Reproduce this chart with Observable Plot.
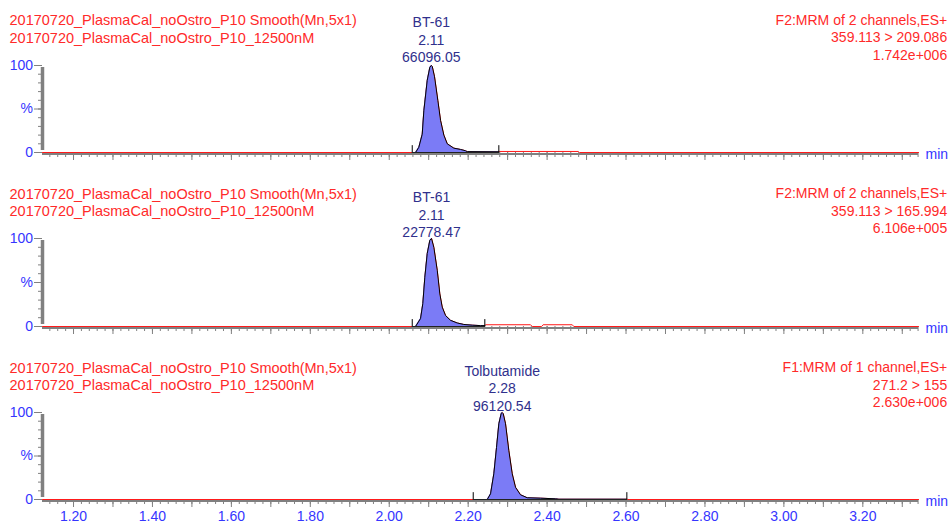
<!DOCTYPE html>
<html>
<head>
<meta charset="utf-8">
<script src="https://cdn.jsdelivr.net/npm/d3@7"></script>
<script src="https://cdn.jsdelivr.net/npm/@observablehq/plot@0.6"></script>
<style>
  html, body { margin: 0; padding: 0; background: #fff; }
  #chart svg { display: block; }
</style>
</head>
<body>
<div id="chart"></div>
<script>
// ---------- data ----------
const xDomain = [1.1214, 3.3411];
const xLabelTicks = [1.2, 1.4, 1.6, 1.8, 2.0, 2.2, 2.4, 2.6, 2.8, 3.0, 3.2];
const xLabelTexts = ["1.20", "1.40", "1.60", "1.80", "2.00", "2.20", "2.40", "2.60", "2.80", "3.00", "3.20"];
const yMajorTicks = [0, 50, 100];
const yTickLabels = ["0", "%", "100"];

const leftTitles = [
  ["20170720_PlasmaCal_noOstro_P10 Smooth(Mn,5x1)", "20170720_PlasmaCal_noOstro_P10_12500nM"],
  ["20170720_PlasmaCal_noOstro_P10 Smooth(Mn,5x1)", "20170720_PlasmaCal_noOstro_P10_12500nM"],
  ["20170720_PlasmaCal_noOstro_P10 Smooth(Mn,5x1)", "20170720_PlasmaCal_noOstro_P10_12500nM"]
];
const rightTitles = [
  ["F2:MRM of 2 channels,ES+", "359.113 > 209.086", "1.742e+006"],
  ["F2:MRM of 2 channels,ES+", "359.113 > 165.994", "6.106e+005"],
  ["F1:MRM of 1 channel,ES+", "271.2 > 155", "2.630e+006"]
];
const peakNames = ["BT-61", "BT-61", "Tolbutamide"];
const peakRT = ["2.11", "2.11", "2.28"];
const peakArea = ["66096.05", "22778.47", "96120.54"];
const integrationStart = [2.0583, 2.0583, 2.2128];
const integrationEnd = [2.2777, 2.2422, 2.6021];

// chromatogram traces (time in min, intensity in %)
const time1 = [1.1214, 2.0583, 2.0666, 2.0750, 2.0836, 2.0877, 2.0963, 2.1029, 2.1065, 2.1090, 2.1148, 2.1231, 2.1300, 2.1384, 2.1470, 2.1637, 2.1807, 2.1933, 2.1976, 2.2777, 2.2790, 2.4790, 2.4820, 3.3411];
const intensity1 = [0, 0, 0, 6, 21, 48, 83, 98, 100, 99, 87, 60, 37, 20, 10, 5, 3.5, 2, 1, 0.8, 1.2, 1.2, 0, 0];

const time2 = [1.1214, 2.0583, 2.0666, 2.0793, 2.0851, 2.0902, 2.0963, 2.1029, 2.1072, 2.1130, 2.1216, 2.1282, 2.1343, 2.1427, 2.1553, 2.1723, 2.1890, 2.2103, 2.2313, 2.2422, 2.2440, 2.3580, 2.3624, 2.3860, 2.3900, 2.4637, 2.4678, 3.3411];
const intensity2 = [0, 0, 0, 9, 26, 56, 83, 98, 100, 90, 64, 37, 22, 12.5, 7, 4, 2.3, 1.5, 1, 1, 2, 2, 0, 0, 2, 2, 0, 0];

const time3 = [1.1214, 2.2128, 2.2483, 2.2567, 2.2650, 2.2719, 2.2777, 2.2838, 2.2863, 2.2889, 2.2947, 2.3031, 2.3117, 2.3200, 2.3327, 2.3497, 2.3834, 2.4214, 2.4300, 2.6021, 2.6040, 3.3411];
const intensity3 = [0, 0, 0, 6.5, 29.5, 60, 87, 99, 100, 98.5, 87, 56, 29.5, 14, 5.4, 2, 1.5, 0.8, 0.3, 0.3, 0, 0];

const times = [time1, time2, time3];
const intensities = [intensity1, intensity2, intensity3];

// ---------- style ----------
const FONT = "'Liberation Sans', Arial, sans-serif";
const RED_TEXT = "#ff2a2a";
const TRACE_RED = "#ff1a1a";
const BLUE = "#3535ff";
const NAVY = "#30308c";
const FILL = "#7b7bf6";
const GRAY = "#808080";

const layouts = [
  {height: 174, marginTop: 65, marginBottom: 22, titleTop: 12.6, rightTop: 11.7, labelTop: 14.2, labels: false},
  {height: 174, marginTop: 64, marginBottom: 22, titleTop: 12.2, rightTop: 11.5, labelTop: 15.0, labels: false},
  {height: 176, marginTop: 64, marginBottom: 25, titleTop: 12.0, rightTop: 11.5, labelTop: 14.7, labels: true}
];

function panel(i) {
  const L = layouts[i];
  const rows = times[i].map((t, k) => ({t, v: intensities[i][k]}));
  const s = integrationStart[i], e = integrationEnd[i];
  const inWin = rows.filter(d => d.t >= s && d.t <= e);
  const apex = rows[d3.maxIndex(rows, d => d.v)];

  const marks = [
    // horizontal axis line (grey, just under the baseline)
    Plot.ruleY([0], {stroke: GRAY, strokeWidth: 2, dy: 1.5}),
    // x ticks
    Plot.axisX({anchor: "bottom", ticks: d3.range(57, 168).map(k => k * 0.02), tickSize: 5, fill: "none", stroke: GRAY, label: null}),
    Plot.axisX({anchor: "bottom", ticks: d3.range(12, 34).map(k => k * 0.1), tickSize: 8, fill: "none", stroke: GRAY, label: null}),
    // y ticks
    Plot.axisY({anchor: "left", ticks: d3.range(0, 11).map(k => k * 10), tickSize: 4, fill: "none", stroke: GRAY, label: null}),
    Plot.axisY({anchor: "left", ticks: yMajorTicks, tickSize: 8, fill: "none", stroke: GRAY, label: null}),
    Plot.axisY({anchor: "left", ticks: yMajorTicks, tickSize: 8, tickPadding: 1.5, stroke: "none",
      tickFormat: d => yTickLabels[yMajorTicks.indexOf(d)], fill: BLUE, fontSize: 14, label: null}),
    // chromatogram trace
    Plot.line(rows, {x: "t", y: "v", stroke: TRACE_RED, strokeWidth: 1}),
    // integrated peak
    Plot.areaY(inWin, {x: "t", y: "v", fill: FILL}),
    Plot.line(inWin, {x: "t", y: "v", stroke: "black", strokeWidth: 1}),
    Plot.line([{t: s, v: 0}, {t: e, v: 0}], {x: "t", y: "v", stroke: "#222", strokeWidth: 1}),
    Plot.ruleX([s, e], {x: d => d, y1: 0, y2: 9, stroke: "black", strokeWidth: 1, insetBottom: -1}),
    // vertical axis line
    Plot.ruleX([xDomain[0]], {x: d => d, y1: 0, y2: 100, stroke: GRAY, strokeWidth: 3.5, insetTop: -2, insetBottom: -2}),
    // peak label
    Plot.text([[peakNames[i], peakRT[i], peakArea[i]].join("\n")], {
      x: apex.t, y: 100, text: d => d, lineAnchor: "top", textAnchor: "middle",
      dy: L.labelTop - L.marginTop, lineHeight: 1.26, fill: NAVY, fontSize: 14
    }),
    // titles
    Plot.text([leftTitles[i].join("\n")], {
      text: d => d, frameAnchor: "top-left", textAnchor: "start", lineAnchor: "top",
      dx: 9 - 42, dy: L.titleTop - L.marginTop, lineHeight: 1.2, fill: RED_TEXT, fontSize: 14.5
    }),
    Plot.text([rightTitles[i].join("\n")], {
      text: d => d, frameAnchor: "top-right", textAnchor: "end", lineAnchor: "top",
      dx: 28.7, dy: L.rightTop - L.marginTop, lineHeight: 1.25, fill: RED_TEXT, fontSize: 14
    }),
    // unit
    Plot.text(["min"], {
      text: d => d, frameAnchor: "bottom-right", textAnchor: "start", lineAnchor: "middle",
      dx: 7, dy: 1.6, fill: BLUE, fontSize: 14
    })
  ];
  if (L.labels) {
    marks.push(Plot.axisX({anchor: "bottom", ticks: xLabelTicks, tickSize: 0, tickPadding: 12, stroke: "none",
      tickFormat: d => xLabelTexts[xLabelTicks.indexOf(d)], fill: BLUE, fontSize: 14, label: null}));
  }

  return Plot.plot({
    width: 948,
    height: L.height,
    marginLeft: 42,
    marginRight: 30,
    marginTop: L.marginTop,
    marginBottom: L.marginBottom,
    x: {domain: xDomain, axis: null},
    y: {domain: [0, 100], axis: null},
    style: {fontFamily: FONT, fontSize: "14px", background: "#fff", overflow: "visible"},
    marks
  });
}

const chart = document.getElementById("chart");
for (let i = 0; i < 3; i++) chart.appendChild(panel(i));
</script>
</body>
</html>
